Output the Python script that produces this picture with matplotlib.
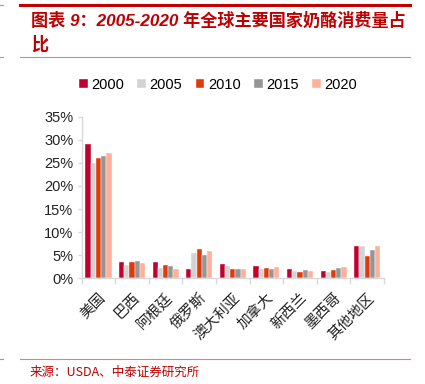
import matplotlib
matplotlib.use("Agg")
import matplotlib.pyplot as plt
from matplotlib.lines import Line2D
import numpy as np

plt.rcParams['font.family'] = ['Liberation Sans', 'Noto Sans CJK SC', 'DejaVu Sans']

categories = ["美国", "巴西", "阿根廷", "俄罗斯", "澳大利亚", "加拿大", "新西兰", "墨西哥", "其他地区"]
years = ["2000", "2005", "2010", "2015", "2020"]
v2000 = [29.0, 3.5, 3.5, 2.0, 3.2, 2.7, 2.0, 1.6, 6.9]
v2005 = [25.0, 2.9, 2.2, 5.5, 2.6, 2.0, 1.6, 1.3, 7.0]
v2010 = [26.0, 3.5, 2.9, 6.4, 2.0, 2.2, 1.4, 1.9, 4.8]
v2015 = [26.5, 3.8, 2.7, 5.1, 2.1, 2.0, 1.8, 2.2, 6.1]
v2020 = [27.1, 3.4, 2.1, 5.9, 2.0, 2.4, 1.5, 2.5, 7.0]
series = [v2000, v2005, v2010, v2015, v2020]
colors = ["#C0002F", "#D3D3D3", "#E03A0A", "#959595", "#FFB09A"]

W, H = 425, 384
fig = plt.figure(figsize=(W / 100, H / 100), dpi=100)
ax = fig.add_axes([81.7 / W, 1 - 278.3 / H, (384 - 81.7) / W, (278.3 - 116.7) / H])

x = np.arange(len(categories))
bw = 0.155
for i, (vals, c, y) in enumerate(zip(series, colors, years)):
    ax.bar(x + (i - 2) * bw, np.array(vals) / 100, width=bw, color=c, label=y,
           edgecolor='white', linewidth=0.3)

ax.set_xlim(-0.5, len(categories) - 0.5)
ax.set_ylim(0, 0.35)
ax.set_yticks(np.arange(0, 0.351, 0.05))
ax.set_yticklabels([f"{int(round(t*100))}%" for t in np.arange(0, 0.351, 0.05)], fontsize=10.5, color='#222222')
ax.set_xticks(x)
ax.set_xticklabels(categories, rotation=45, ha='right', rotation_mode='anchor',
                   fontsize=10.5, family=['Noto Sans CJK SC'], color='#222222')
ax.set_xticks(np.arange(-0.5, len(categories), 1), minor=True)
ax.tick_params(axis='x', which='major', length=0, pad=9)
ax.tick_params(axis='x', which='minor', length=4, color='#D9D9D9', width=1)
ax.tick_params(axis='y', length=3, color='#D9D9D9', width=1, pad=3)
for s in ['top', 'right']:
    ax.spines[s].set_visible(False)
for s in ['left', 'bottom']:
    ax.spines[s].set_color('#D9D9D9')
    ax.spines[s].set_linewidth(1)

leg = fig.legend(loc='center', bbox_to_anchor=(218 / W, 1 - 85 / H), ncol=5, frameon=False,
                 fontsize=10.5, handlelength=0.6, handleheight=0.6, handletextpad=0.25,
                 columnspacing=0.9)

red = '#C00000'
fig.add_artist(Line2D([20 / W, 410 / W], [1 - 5 / H, 1 - 5 / H], color=red, lw=2.2))
fig.add_artist(Line2D([20 / W, 410 / W], [1 - 57 / H, 1 - 57 / H], color='#E08080', lw=0.8))
fig.add_artist(Line2D([20 / W, 410 / W], [1 - 359 / H, 1 - 359 / H], color='#E08080', lw=0.8))
for yy in [5, 57, 359]:
    fig.add_artist(Line2D([0, 3 / W], [1 - yy / H, 1 - yy / H], color='#E08080', lw=0.8))

fig.text(31 / W, 1 - 20 / H, "图表 9：2005-2020 年全球主要国家奶酪消费量占", fontsize=12.3,
         fontweight='bold', style='italic', color=red, va='center', ha='left',
         family=['Liberation Sans', 'Noto Sans CJK SC'])
fig.text(31 / W, 1 - 45 / H, "比", fontsize=12.3, fontweight='bold', style='italic',
         color=red, va='center', ha='left', family=['Noto Sans CJK SC'])
fig.text(30 / W, 1 - 372 / H, "来源：USDA、中泰证券研究所", fontsize=9, color=red,
         va='center', ha='left', family=['Noto Sans CJK SC', 'Liberation Sans'])

fig.savefig("out.png", dpi=100)
